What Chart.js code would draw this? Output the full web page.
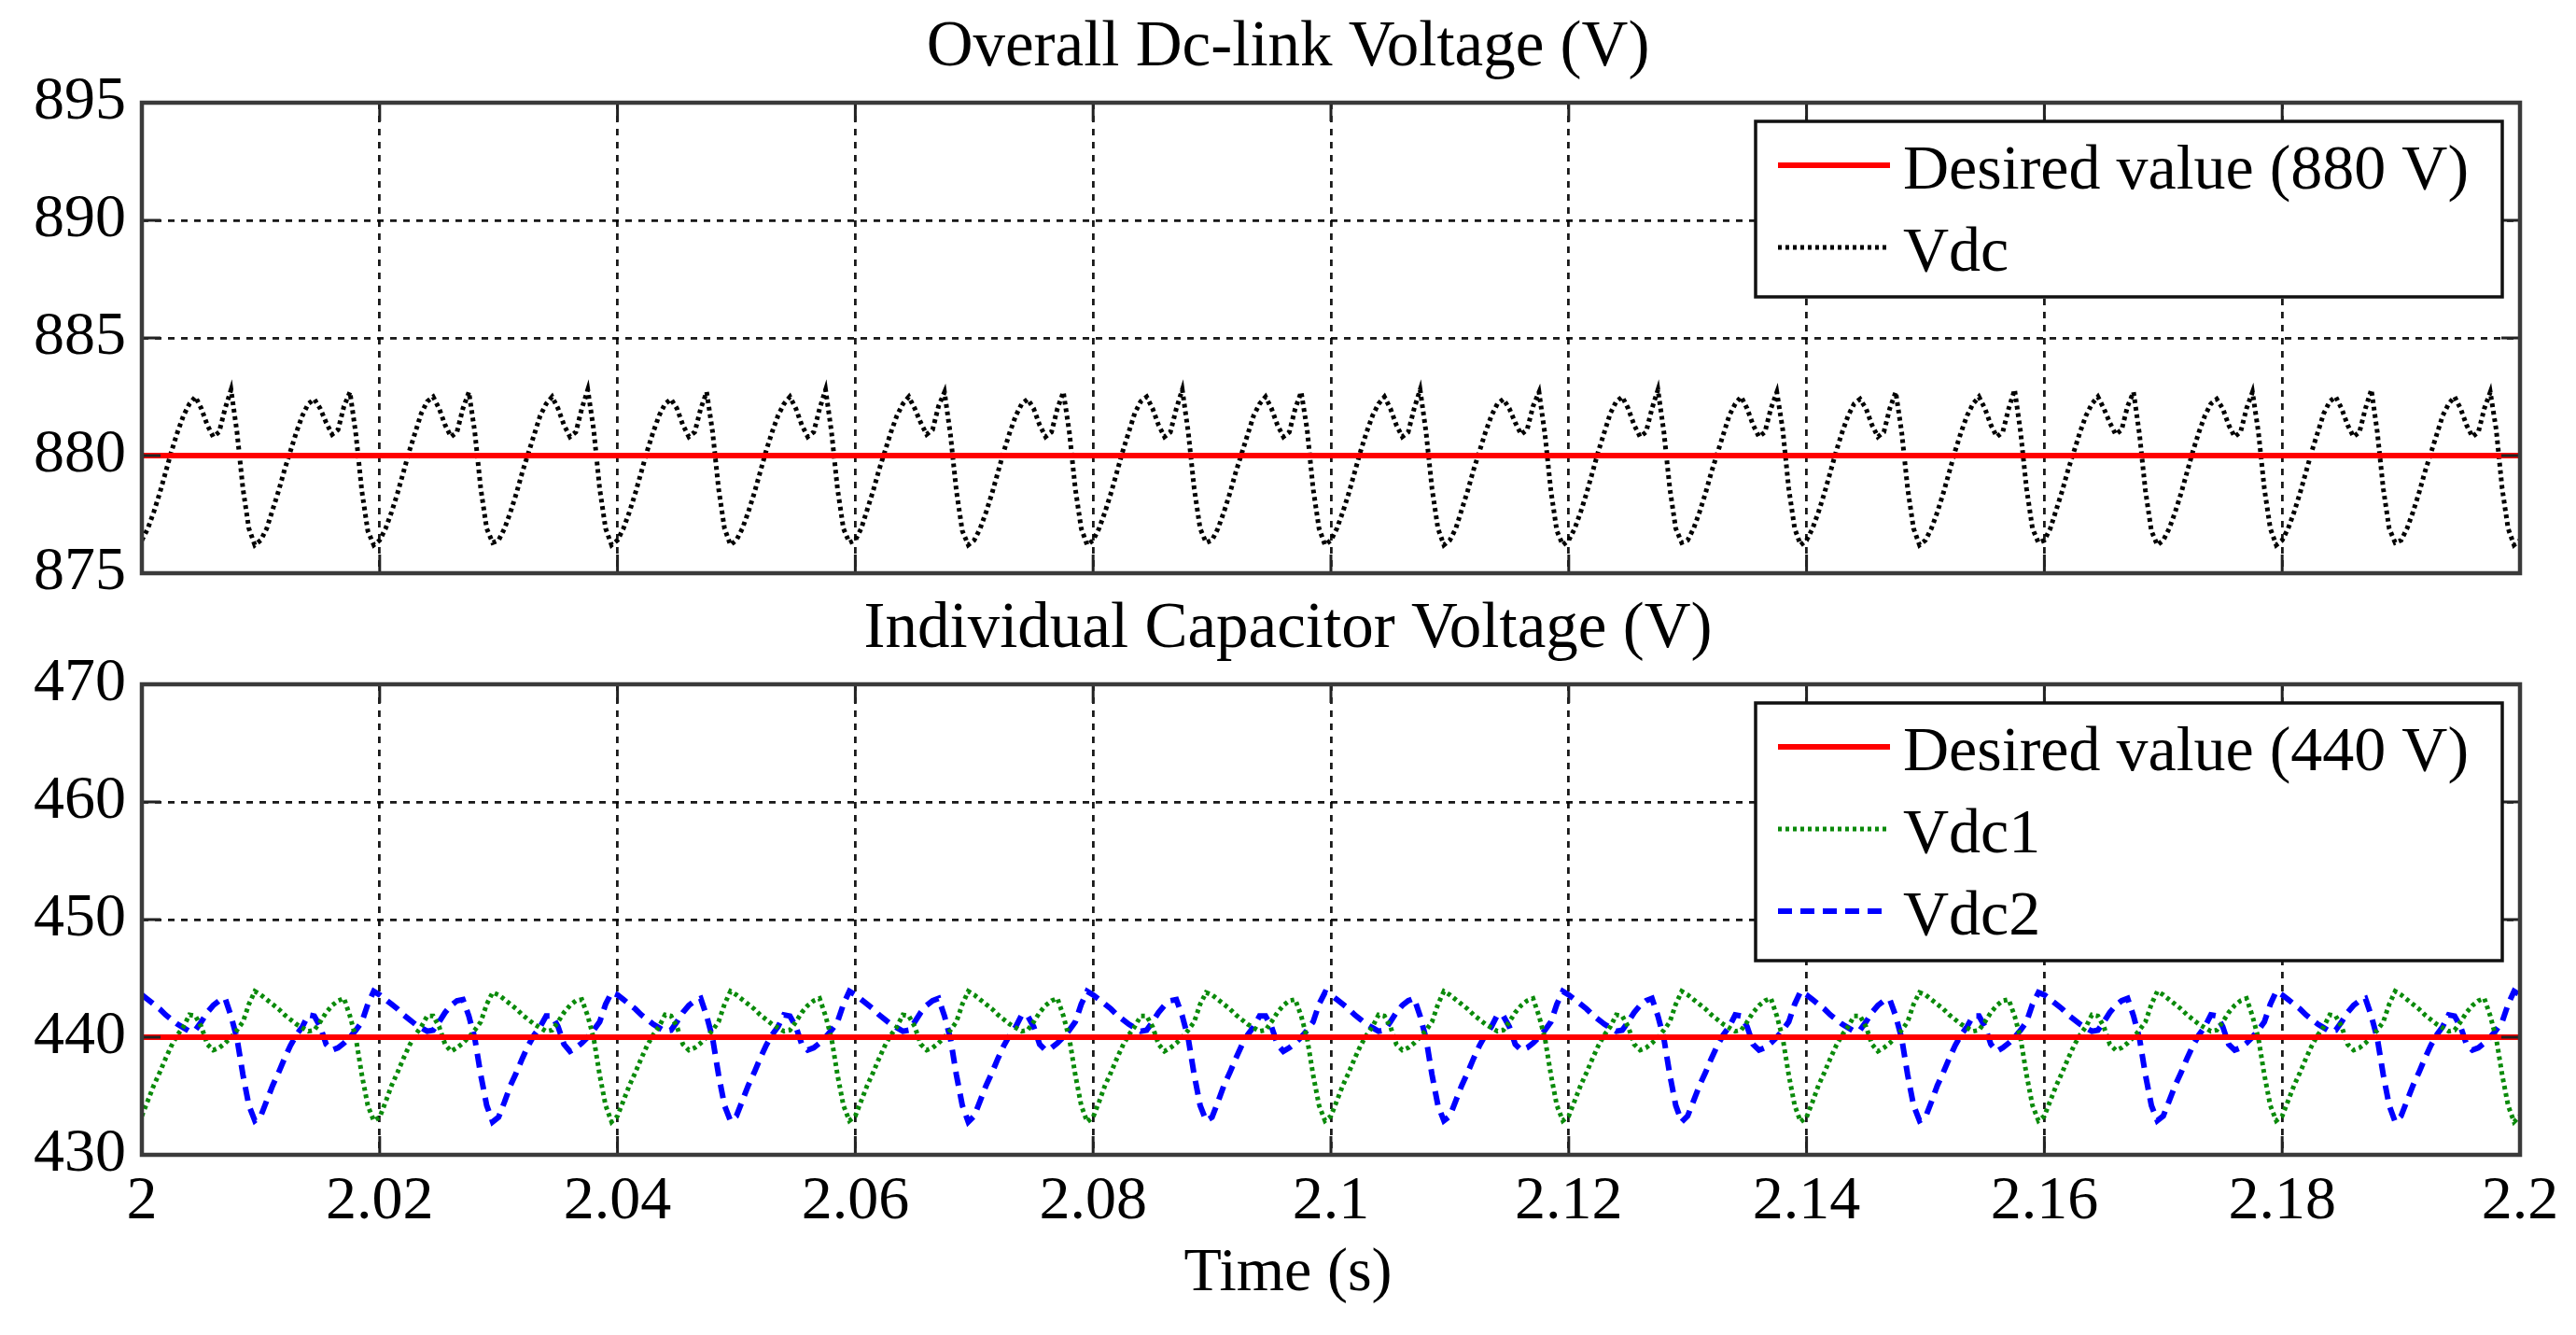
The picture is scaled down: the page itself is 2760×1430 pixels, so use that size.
<!DOCTYPE html>
<html lang="en">
<head>
<meta charset="UTF-8">
<title>Dc-link Voltage</title>
<style>
    body { margin: 0; background: #fff; }
    #wrap { position: relative; width: 2760px; height: 1430px; }
    canvas { position: absolute; left: 0; }
    #topChart { top: 0; }
    #bottomChart { top: 630px; }
</style>
</head>
<body>
<div id="wrap">
    <canvas id="topChart" width="2760" height="660"></canvas>
    <canvas id="bottomChart" width="2760" height="800"></canvas>
</div>
<script src="https://cdn.jsdelivr.net/npm/chart.js"></script>
<script>
    // samples every 0.5 ms from t = 2 s to t = 2.2 s
    const timeStart = 2;
    const sampleStep = 0.0005;

    const xTicks = [2, 2.02, 2.04, 2.06, 2.08, 2.1, 2.12, 2.14, 2.16, 2.18, 2.2];
    const topYTicks = [875, 880, 885, 890, 895];
    const bottomYTicks = [430, 440, 450, 460, 470];

    const topTitle = 'Overall Dc-link Voltage (V)';
    const bottomTitle = 'Individual Capacitor Voltage (V)';
    const xLabel = 'Time (s)';

    const desiredVdc = 880;
    const desiredCap = 440;

    // overall dc-link voltage, one line per 10 ms ripple cycle
    const vdc = [
        876.4,876.9,877.6,878.4,879.3,880.2,881.0,881.7,882.2,882.5,882.0,881.3,880.8,881.0,882.0,882.8,881.0,878.6,876.9,876.2,
        876.4,876.9,877.7,878.5,879.4,880.2,881.0,881.7,882.2,882.4,882.0,881.4,880.9,881.1,882.1,882.7,880.9,878.5,876.8,876.2,
        876.4,876.9,877.6,878.4,879.3,880.2,881.0,881.8,882.3,882.5,882.0,881.3,880.8,881.0,882.0,882.7,881.0,878.6,876.9,876.3,
        876.4,876.9,877.6,878.4,879.3,880.1,880.9,881.7,882.2,882.5,882.0,881.3,880.8,881.0,882.0,882.8,881.1,878.6,876.9,876.2,
        876.4,876.9,877.6,878.4,879.3,880.2,881.0,881.7,882.2,882.4,882.0,881.3,880.8,881.0,882.0,882.7,881.0,878.6,876.9,876.2,
        876.4,876.9,877.6,878.4,879.3,880.2,881.0,881.7,882.2,882.5,882.0,881.3,880.8,881.0,882.0,882.8,881.0,878.6,876.9,876.3,
        876.4,876.9,877.7,878.5,879.4,880.2,881.0,881.7,882.2,882.5,882.0,881.4,880.9,881.1,882.1,882.7,880.9,878.5,876.8,876.2,
        876.4,876.9,877.6,878.4,879.3,880.2,881.0,881.7,882.2,882.4,882.0,881.3,880.8,881.0,882.0,882.7,881.0,878.6,876.9,876.2,
        876.4,876.9,877.6,878.4,879.3,880.2,881.0,881.8,882.3,882.5,882.0,881.3,880.8,881.0,882.0,882.8,881.0,878.6,876.9,876.3,
        876.4,876.9,877.6,878.4,879.3,880.1,880.9,881.7,882.2,882.5,882.0,881.3,880.8,881.0,882.0,882.7,881.1,878.6,876.9,876.2,
        876.4,876.9,877.6,878.4,879.3,880.2,881.0,881.7,882.2,882.5,882.0,881.3,880.8,881.0,882.0,882.8,881.0,878.6,876.9,876.2,
        876.4,876.9,877.7,878.5,879.4,880.2,881.0,881.7,882.2,882.4,882.0,881.4,880.9,881.1,882.1,882.7,880.9,878.5,876.8,876.2,
        876.4,876.9,877.6,878.4,879.3,880.2,881.0,881.8,882.3,882.5,882.0,881.3,880.8,881.0,882.0,882.8,881.0,878.6,876.9,876.3,
        876.4,876.9,877.6,878.4,879.3,880.1,880.9,881.7,882.2,882.5,882.0,881.3,880.8,881.0,882.0,882.7,881.1,878.6,876.9,876.2,
        876.4,876.9,877.6,878.4,879.3,880.2,881.0,881.7,882.2,882.4,882.0,881.3,880.8,881.0,882.0,882.7,881.0,878.6,876.9,876.2,
        876.4,876.9,877.6,878.4,879.3,880.2,881.0,881.7,882.2,882.5,882.0,881.3,880.8,881.0,882.0,882.8,881.0,878.6,876.9,876.3,
        876.4,876.9,877.7,878.5,879.4,880.2,881.0,881.7,882.2,882.5,882.0,881.4,880.9,881.1,882.1,882.7,880.9,878.5,876.8,876.2,
        876.4,876.9,877.6,878.4,879.3,880.2,881.0,881.7,882.2,882.4,882.0,881.3,880.8,881.0,882.0,882.7,881.0,878.6,876.9,876.2,
        876.4,876.9,877.6,878.4,879.3,880.2,881.0,881.8,882.3,882.5,882.0,881.3,880.8,881.0,882.0,882.8,881.0,878.6,876.9,876.3,
        876.4,876.9,877.6,878.4,879.3,880.1,880.9,881.7,882.2,882.5,882.0,881.3,880.8,881.0,882.0,882.7,881.1,878.6,876.9,876.2,
        876.4
    ];

    // capacitor voltages, one line per 20 ms cycle
    const vdc1 = [
        433.3,434.6,435.9,437.0,438.2,439.3,440.2,440.9,441.9,441.8,440.9,439.4,438.9,439.1,439.5,440.0,440.6,441.3,442.8,443.9,443.6,443.2,442.8,442.4,441.9,441.5,441.1,440.8,440.5,440.6,441.3,442.1,442.7,443.1,443.3,441.8,439.9,436.8,434.2,432.9,
        433.2,434.5,435.9,437.0,438.2,439.3,440.2,440.9,441.8,441.8,440.9,439.4,438.8,439.1,439.5,440.0,440.6,441.3,442.8,443.8,443.6,443.2,442.8,442.4,441.9,441.5,441.1,440.8,440.5,440.6,441.3,442.1,442.7,443.1,443.2,441.8,439.9,436.8,434.2,432.8,
        433.3,434.6,435.9,437.0,438.2,439.3,440.2,440.9,441.9,441.8,440.9,439.4,438.9,439.1,439.5,440.0,440.6,441.3,442.8,443.9,443.6,443.2,442.8,442.4,441.9,441.5,441.1,440.8,440.5,440.6,441.3,442.1,442.7,443.1,443.3,441.8,439.9,436.8,434.2,432.9,
        433.3,434.6,435.9,437.0,438.2,439.3,440.2,440.9,441.9,441.8,440.9,439.4,438.9,439.1,439.5,440.0,440.6,441.3,442.8,443.9,443.6,443.2,442.8,442.4,441.9,441.5,441.1,440.8,440.5,440.6,441.3,442.1,442.7,443.1,443.3,441.8,439.9,436.8,434.2,432.8,
        433.2,434.5,435.9,437.0,438.2,439.3,440.2,440.9,441.8,441.8,440.9,439.4,438.8,439.1,439.5,440.0,440.6,441.3,442.8,443.8,443.6,443.2,442.8,442.4,441.9,441.5,441.1,440.8,440.5,440.6,441.3,442.1,442.7,443.1,443.2,441.8,439.9,436.8,434.2,432.9,
        433.3,434.6,435.9,437.0,438.2,439.3,440.2,440.9,441.9,441.8,440.9,439.4,438.9,439.1,439.5,440.0,440.6,441.3,442.8,443.9,443.6,443.2,442.8,442.4,441.9,441.5,441.1,440.8,440.5,440.6,441.3,442.1,442.7,443.1,443.3,441.8,439.9,436.8,434.2,432.9,
        433.3,434.6,435.9,437.0,438.2,439.3,440.2,440.9,441.9,441.8,440.9,439.4,438.9,439.1,439.5,440.0,440.6,441.3,442.8,443.9,443.6,443.2,442.8,442.4,441.9,441.5,441.1,440.8,440.5,440.6,441.3,442.1,442.7,443.1,443.3,441.8,439.9,436.8,434.2,432.8,
        433.2,434.5,435.9,437.0,438.2,439.3,440.2,440.9,441.8,441.8,440.9,439.4,438.8,439.1,439.5,440.0,440.6,441.3,442.8,443.8,443.6,443.2,442.8,442.4,441.9,441.5,441.1,440.8,440.5,440.6,441.3,442.1,442.7,443.1,443.2,441.8,439.9,436.8,434.2,432.9,
        433.3,434.6,435.9,437.0,438.2,439.3,440.2,440.9,441.9,441.8,440.9,439.4,438.9,439.1,439.5,440.0,440.6,441.3,442.8,443.9,443.6,443.2,442.8,442.4,441.9,441.5,441.1,440.8,440.5,440.6,441.3,442.1,442.7,443.1,443.3,441.8,439.9,436.8,434.2,432.9,
        433.3,434.6,435.9,437.0,438.2,439.3,440.2,440.9,441.9,441.8,440.9,439.4,438.9,439.1,439.5,440.0,440.6,441.3,442.8,443.9,443.6,443.2,442.8,442.4,441.9,441.5,441.1,440.8,440.5,440.6,441.3,442.1,442.7,443.1,443.3,441.8,439.9,436.8,434.2,432.8,
        433.3
    ];

    const vdc2 = [
        443.6,443.2,442.8,442.4,441.9,441.5,441.1,440.8,440.5,440.6,441.3,442.1,442.7,443.1,443.3,441.8,439.9,436.8,434.2,432.9,433.3,434.6,435.9,437.0,438.2,439.3,440.2,440.9,441.9,441.8,440.9,439.4,438.9,439.1,439.5,440.0,440.6,441.3,442.8,443.9,
        443.6,443.2,442.8,442.4,441.9,441.5,441.1,440.8,440.5,440.6,441.3,442.1,442.7,443.1,443.2,441.8,439.9,436.8,434.2,432.8,433.2,434.5,435.9,437.0,438.2,439.3,440.2,440.9,441.8,441.8,440.9,439.4,438.8,439.1,439.5,440.0,440.6,441.3,442.8,443.8,
        443.6,443.2,442.8,442.4,441.9,441.5,441.1,440.8,440.5,440.6,441.3,442.1,442.7,443.1,443.3,441.8,439.9,436.8,434.2,432.9,433.3,434.6,435.9,437.0,438.2,439.3,440.2,440.9,441.9,441.8,440.9,439.4,438.9,439.1,439.5,440.0,440.6,441.3,442.8,443.9,
        443.6,443.2,442.8,442.4,441.9,441.5,441.1,440.8,440.5,440.6,441.3,442.1,442.7,443.1,443.3,441.8,439.9,436.8,434.2,432.8,433.3,434.6,435.9,437.0,438.2,439.3,440.2,440.9,441.9,441.8,440.9,439.4,438.9,439.1,439.5,440.0,440.6,441.3,442.8,443.9,
        443.6,443.2,442.8,442.4,441.9,441.5,441.1,440.8,440.5,440.6,441.3,442.1,442.7,443.1,443.2,441.8,439.9,436.8,434.2,432.9,433.2,434.5,435.9,437.0,438.2,439.3,440.2,440.9,441.8,441.8,440.9,439.4,438.8,439.1,439.5,440.0,440.6,441.3,442.8,443.8,
        443.6,443.2,442.8,442.4,441.9,441.5,441.1,440.8,440.5,440.6,441.3,442.1,442.7,443.1,443.3,441.8,439.9,436.8,434.2,432.9,433.3,434.6,435.9,437.0,438.2,439.3,440.2,440.9,441.9,441.8,440.9,439.4,438.9,439.1,439.5,440.0,440.6,441.3,442.8,443.9,
        443.6,443.2,442.8,442.4,441.9,441.5,441.1,440.8,440.5,440.6,441.3,442.1,442.7,443.1,443.3,441.8,439.9,436.8,434.2,432.8,433.3,434.6,435.9,437.0,438.2,439.3,440.2,440.9,441.9,441.8,440.9,439.4,438.9,439.1,439.5,440.0,440.6,441.3,442.8,443.9,
        443.6,443.2,442.8,442.4,441.9,441.5,441.1,440.8,440.5,440.6,441.3,442.1,442.7,443.1,443.2,441.8,439.9,436.8,434.2,432.9,433.2,434.5,435.9,437.0,438.2,439.3,440.2,440.9,441.8,441.8,440.9,439.4,438.8,439.1,439.5,440.0,440.6,441.3,442.8,443.8,
        443.6,443.2,442.8,442.4,441.9,441.5,441.1,440.8,440.5,440.6,441.3,442.1,442.7,443.1,443.3,441.8,439.9,436.8,434.2,432.9,433.3,434.6,435.9,437.0,438.2,439.3,440.2,440.9,441.9,441.8,440.9,439.4,438.9,439.1,439.5,440.0,440.6,441.3,442.8,443.9,
        443.6,443.2,442.8,442.4,441.9,441.5,441.1,440.8,440.5,440.6,441.3,442.1,442.7,443.1,443.3,441.8,439.9,436.8,434.2,432.8,433.3,434.6,435.9,437.0,438.2,439.3,440.2,440.9,441.9,441.8,440.9,439.4,438.9,439.1,439.5,440.0,440.6,441.3,442.8,443.9,
        443.6
    ];

    const time = vdc.map((v, i) => +(timeStart + i * sampleStep).toFixed(4));
    const toPoints = values => values.map((v, i) => ({ x: time[i], y: v }));
    const flatLine = level => [{ x: xTicks[0], y: level }, { x: xTicks[xTicks.length - 1], y: level }];

    const serif = '"Liberation Serif", "DejaVu Serif", serif';

    // box around the axes, ticks pointing inwards and a boxed legend in the upper right
    const frameAndLegend = {
        id: 'frameAndLegend',
        afterDatasetsDraw(chart) {
            const { ctx, chartArea: a, scales } = chart;
            ctx.save();
            ctx.setLineDash([]);
            ctx.strokeStyle = '#222';
            ctx.lineWidth = 3;
            ctx.beginPath();
            scales.x.ticks.forEach(t => {
                const px = scales.x.getPixelForValue(t.value);
                ctx.moveTo(px, a.top); ctx.lineTo(px, a.top + 20);
                ctx.moveTo(px, a.bottom); ctx.lineTo(px, a.bottom - 20);
            });
            scales.y.ticks.forEach(t => {
                const py = scales.y.getPixelForValue(t.value);
                ctx.moveTo(a.left, py); ctx.lineTo(a.left + 20, py);
                ctx.moveTo(a.right, py); ctx.lineTo(a.right - 20, py);
            });
            ctx.stroke();
            ctx.strokeStyle = '#3a3a3a';
            ctx.lineWidth = 4.5;
            ctx.strokeRect(a.left, a.top, a.right - a.left, a.bottom - a.top);

            const sets = chart.data.datasets;
            const w = 800;
            const h = 47 + 88 * (sets.length - 1) + 53;
            const bx = a.right - 19 - w;
            const by = a.top + 20;
            ctx.fillStyle = '#fff';
            ctx.fillRect(bx, by, w, h);
            ctx.strokeStyle = '#111';
            ctx.lineWidth = 3.5;
            ctx.strokeRect(bx, by, w, h);
            ctx.font = '68px ' + serif;
            ctx.textAlign = 'left';
            ctx.textBaseline = 'alphabetic';
            sets.forEach((ds, i) => {
                const y = by + 47 + 88 * i;
                ctx.strokeStyle = ds.borderColor;
                ctx.lineWidth = ds.borderWidth;
                ctx.setLineDash(ds.borderDash || []);
                ctx.beginPath();
                ctx.moveTo(bx + 24, y);
                ctx.lineTo(bx + 144, y);
                ctx.stroke();
                ctx.setLineDash([]);
                ctx.fillStyle = '#000';
                ctx.fillText(ds.label, bx + 158, y + 25);
            });
            ctx.restore();
        }
    };

    function makeChart(id, datasets, yTicks, cfg) {
        const gridStyle = { color: 'rgba(0,0,0,0.9)', lineWidth: 2.8, drawTicks: false };
        const borderStyle = { display: false, dash: [7, 7] };
        const yMin = yTicks[0];
        const yMax = yTicks[yTicks.length - 1];
        return new Chart(document.getElementById(id), {
            type: 'line',
            data: { datasets },
            options: {
                responsive: false,
                animation: false,
                devicePixelRatio: 1,
                layout: { padding: { left: 30, right: 30, top: 0, bottom: 0 } },
                elements: { point: { radius: 0 }, line: { tension: 0 } },
                scales: {
                    x: {
                        type: 'linear',
                        min: xTicks[0],
                        max: xTicks[xTicks.length - 1],
                        afterBuildTicks: s => { s.ticks = xTicks.map(v => ({ value: v })); },
                        afterFit: s => { s.height = cfg.xHeight; s.paddingLeft = 0; s.paddingRight = 0; },
                        grid: gridStyle,
                        border: borderStyle,
                        ticks: {
                            display: cfg.xLabels,
                            padding: 11,
                            maxRotation: 0,
                            autoSkip: false,
                            color: '#000',
                            font: { family: serif, size: 66 },
                            callback: v => String(+v.toFixed(2))
                        }
                    },
                    y: {
                        min: yMin,
                        max: yMax,
                        afterBuildTicks: s => { s.ticks = yTicks.map(v => ({ value: v })); },
                        afterFit: s => { s.width = 122; s.paddingTop = 0; s.paddingBottom = 0; },
                        grid: gridStyle,
                        border: borderStyle,
                        ticks: {
                            padding: 17,
                            color: '#000',
                            font: { family: serif, size: 66 },
                            callback: v => String(v)
                        }
                    },
                    // empty strip on the right so the titles stay centred on the figure
                    yRight: {
                        position: 'right',
                        min: yMin,
                        max: yMax,
                        afterFit: s => { s.width = 30; s.paddingTop = 0; s.paddingBottom = 0; },
                        grid: { display: false, drawTicks: false },
                        border: { display: false },
                        ticks: { display: false }
                    }
                },
                plugins: {
                    legend: { display: false },
                    tooltip: { enabled: false },
                    title: {
                        display: true,
                        text: cfg.title,
                        color: '#000',
                        font: { family: serif, size: 69, weight: 'normal' },
                        padding: cfg.titlePadding
                    },
                    subtitle: {
                        display: !!cfg.xTitle,
                        position: 'bottom',
                        text: cfg.xTitle || '',
                        color: '#000',
                        font: { family: serif, size: 66 },
                        padding: { top: 0.4, bottom: 25.4 }
                    }
                }
            },
            plugins: [frameAndLegend]
        });
    }

    makeChart('topChart', [
        { label: 'Desired value (880 V)', data: flatLine(desiredVdc), borderColor: '#ff0000', borderWidth: 6 },
        { label: 'Vdc', data: toPoints(vdc), borderColor: '#000000', borderWidth: 5, borderDash: [4, 4] }
    ], topYTicks, {
        title: topTitle,
        titlePadding: { top: 10.6, bottom: 16.6 },
        xHeight: 46,
        xLabels: false
    });

    makeChart('bottomChart', [
        { label: 'Desired value (440 V)', data: flatLine(desiredCap), borderColor: '#ff0000', borderWidth: 6 },
        { label: 'Vdc1', data: toPoints(vdc1), borderColor: '#0a8a0a', borderWidth: 5, borderDash: [4, 4] },
        { label: 'Vdc2', data: toPoints(vdc2), borderColor: '#0000ff', borderWidth: 6, borderDash: [15, 9] }
    ], bottomYTicks, {
        title: bottomTitle,
        titlePadding: { top: 3.6, bottom: 16.6 },
        xHeight: 88,
        xLabels: true,
        xTitle: xLabel
    });
</script>
</body>
</html>
